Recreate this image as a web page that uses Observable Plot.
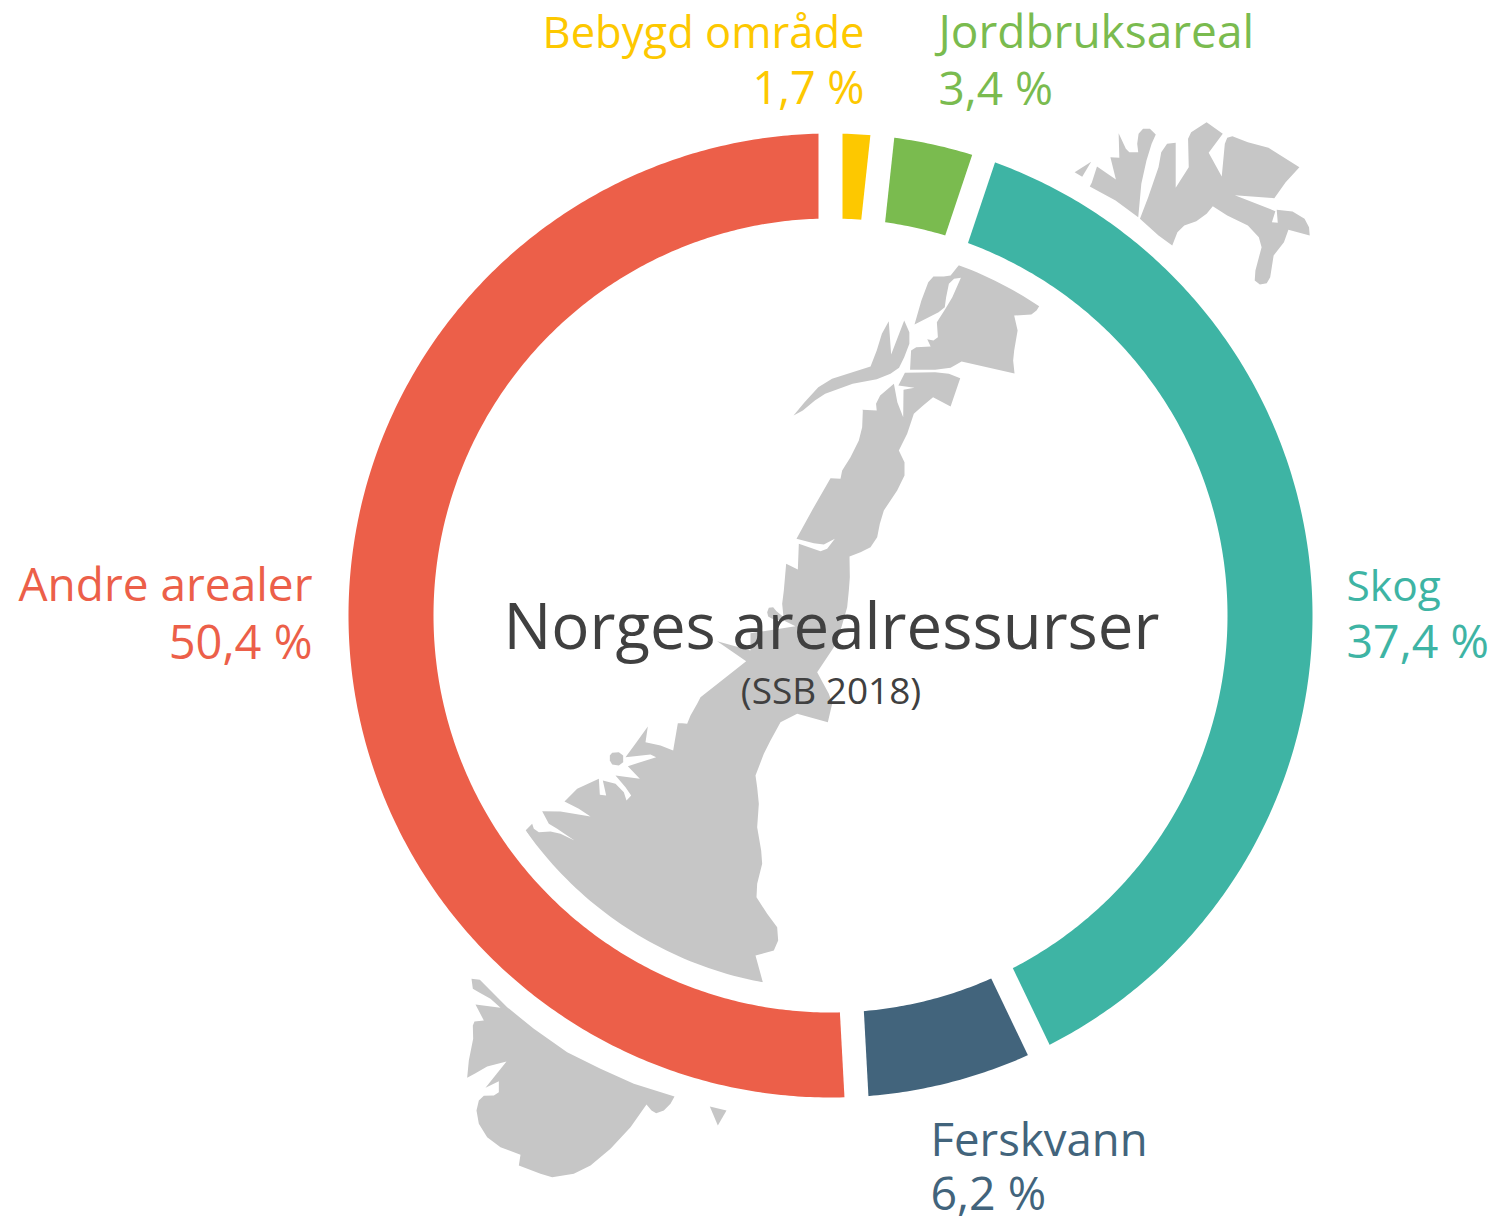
<!DOCTYPE html>
<html lang="no">
<head>
<meta charset="utf-8">
<script src="https://cdn.jsdelivr.net/npm/d3@7"></script>
<script src="https://cdn.jsdelivr.net/npm/@observablehq/plot@0.6"></script>
<style>
html,body{margin:0;padding:0;background:#fff}
svg{display:block}
</style>
</head>
<body>
<script>
// ---------- chart data ----------
const categories = ["Bebygd område", "Jordbruksareal", "Skog", "Ferskvann", "Andre arealer"];
const shares = [1.7, 3.4, 37.4, 6.2, 50.4];
const colours = ["#FDC800", "#7ABB4F", "#3EB4A4", "#42647C", "#EC5F49"];
const title = "Norges arealressurser";
const subtitle = "(SSB 2018)";

const crop = (ox, oy, pts, kx = 3) => pts.map(([a, b]) => [ox + a / kx, oy + b / 3]);
const wide = 2.91; // horizontal scale of the widest crop
const finnmark = crop(780,110,[[520,463],[610,480],[690,525],[760,575],[745,600],[730,612],[680,615],[690,660],[680,720],[677,750],[681,789],[527,753],[495,772],[450,778],[377,778],[380,720],[395,710],[437,708],[427,686],[445,690],[458,680],[455,635],[480,595],[500,560],[525,502],[505,505],[490,520],[482,560],[478,590],[460,605],[390,642],[410,570],[430,515],[445,498],[475,498],[495,495]], wide);
const troms = crop(780,110,[[38,915],[70,875],[110,830],[150,805],[262,768],[280,720],[295,670],[315,632],[322,732],[360,630],[375,665],[375,700],[360,740],[345,772],[320,790],[280,806],[210,820],[130,850],[100,870],[65,900]], wide);
const mainland = [
  ...crop(780,110,[[362,787],[450,785],[490,790],[523,803],[495,888],[444,860],[415,885]], wide),
  ...crop(680,400,[[700,40],[680,100],[655,150],[672,185],[672,225],[650,270],[610,330],[598,370],[590,410],[570,440],[540,455],[507,468],[508,530]]),
  ...crop(700,590,[[445,0],[440,50],[420,120],[400,170],[350,245],[385,310],[395,340],[382,395],[290,370],[240,395],[210,450]]),
  ...crop(510,700,[[760,160],[735,225],[740,260],[745,310],[740,380],[752,450],[755,490],[740,550],[738,590],[770,640],[800,680],[803,720],[790,750],[735,765],[757,845],[650,835],[550,800],[450,755],[350,690],[250,620],[170,545],[100,470],[45,390],[65,370],[70,385],[85,395],[120,393],[150,400],[192,420],[140,385],[115,370],[95,332],[150,333],[240,348],[205,325],[162,303],[200,265],[265,235],[268,283],[287,285],[277,240],[315,250],[340,275],[348,300],[362,285],[345,260],[315,225],[388,235],[352,197],[437,170],[420,162],[345,170],[378,125],[412,78],[405,125],[450,135],[488,150],[502,68],[515,68],[530,70],[540,45],[560,10]]),
  ...crop(700,590,[[0,320],[137,212],[50,152],[150,180],[150,128],[285,107],[250,90],[245,40],[250,0]]),
  ...crop(680,400,[[317,490],[352,507],[355,430],[420,452],[440,445],[463,415],[430,432],[400,428],[348,415],[400,320],[450,233],[480,235],[485,210],[510,170],[535,120],[545,80],[547,30]]),
  ...crop(780,110,[[238,898],[280,900],[278,880],[290,855],[330,820],[340,875],[357,920],[358,838],[390,832],[343,825]], wide)
];
const islet = crop(510,700,[[298,165],[305,157],[325,155],[338,165],[338,185],[325,195],[305,192],[298,180]]);
const neck = crop(700,590,[[200,65],[205,52],[218,50],[228,62],[250,80],[250,92],[215,85],[203,78]]);
const spitsbergenWest = crop(780,110,[[906,216],[921,168],[976,207],[960,140],[986,142],[984,68],[1005,115],[1015,125],[1041,125],[1038,100],[1042,70],[1055,55],[1075,55],[1092,72],[1080,100],[1065,150],[1050,220],[1041,320],[975,270],[900,228]], wide);
const spitsbergenEast = crop(780,110,[[1046,325],[1070,260],[1100,170],[1108,125],[1125,100],[1150,97],[1150,232],[1188,170],[1186,85],[1195,65],[1240,35],[1287,70],[1246,127],[1284,198],[1293,100],[1300,82],[1315,77],[1360,95],[1420,112],[1510,170],[1470,215],[1437,263],[1322,254],[1440,302],[1430,335],[1447,337],[1444,298],[1490,303],[1525,325],[1538,350],[1540,375],[1478,358],[1465,395],[1435,435],[1425,500],[1415,518],[1395,522],[1380,510],[1382,480],[1400,410],[1392,380],[1360,345],[1300,315],[1258,287],[1240,310],[1210,332],[1175,345],[1155,365],[1140,405],[1100,375]], wide);
const spitsbergenIslet = crop(780,110,[[856,185],[904,154],[878,199]], wide);
const south = crop(450,960,[[63,55],[88,58],[170,140],[250,205],[350,275],[450,325],[550,370],[672,408],[660,430],[640,450],[617,458],[603,450],[588,432],[540,500],[480,565],[420,615],[370,640],[305,650],[270,640],[205,615],[210,583],[150,560],[110,530],[85,490],[78,450],[85,420],[100,406],[130,405],[145,395],[145,362],[105,382],[168,303],[110,318],[75,338],[50,352],[55,300],[68,235],[67,195],[72,183],[100,180],[75,132],[150,142],[120,115],[85,95],[67,85]]);
const southIslet = crop(450,960,[[778,438],[828,450],[802,495]]);
const mapParts = [finnmark, troms, mainland, islet, neck, spitsbergenWest, spitsbergenEast, spitsbergenIslet, south, southIslet];

// ---------- layout (separate from the data) ----------
const W = 1502, H = 1223;
const cx = 830, cy = 615, rOuter = 482, rInner = 397;
const labelLayout = [
  {x: 864, anchor: "end",   y1: 47,   y2: 103,  s1: 43.5, s2: 45},
  {x: 938, anchor: "start", y1: 47,   y2: 104,  s1: 46,   s2: 46},
  {x: 1346, anchor: "start", y1: 600, y2: 657,  s1: 42.5, s2: 46.5},
  {x: 930, anchor: "start", y1: 1155, y2: 1209, s1: 45.5, s2: 46.5},
  {x: 312, anchor: "end",   y1: 600, y2: 658,   s1: 46,   s2: 47}
];
const fontFamily = "'Open Sans', Lato, sans-serif";

// ---------- derived geometry ----------
const total = d3.sum(shares);
const polar = (deg, r) => {
  const t = deg * Math.PI / 180;
  return {x: cx + r * Math.sin(t), y: cy - r * Math.cos(t)};
};
const cum = d3.cumsum(shares);
const ends = Array.from(cum, (c) => c / total * 360);
const starts = [0, ...ends.slice(0, -1)];

const arcPoints = categories.flatMap((category, i) => {
  const pts = [];
  for (let a = starts[i]; a < ends[i]; a += 0.5) pts.push({category, ...polar(a, (rOuter + rInner) / 2)});
  pts.push({category, ...polar(ends[i], (rOuter + rInner) / 2)});
  return pts;
});
const haloPoints = d3.range(0, 360.5, 1).map((a) => polar(a, 436.5));
const gaps = ends.map((a) => {
  const p = polar(a, rInner - 12), q = polar(a, rOuter + 12);
  return {x1: p.x, y1: p.y, x2: q.x, y2: q.y};
});
const mapPoints = mapParts.flatMap((part, z) => part.map(([x, y]) => ({x, y, z})));
const labels = categories.map((category, i) => ({
  category,
  pct: String(shares[i]).replace(".", ",") + " %",
  ...labelLayout[i]
}));

const labelMarks = ["start", "end"].flatMap((anchor) => {
  const rows = labels.filter((d) => d.anchor === anchor);
  return [
    Plot.text(rows, {x: "x", y: "y1", text: "category", fill: "category", textAnchor: anchor, lineAnchor: "bottom", fontSize: "s1"}),
    Plot.text(rows, {x: "x", y: "y2", text: "pct", fill: "category", textAnchor: anchor, lineAnchor: "bottom", fontSize: "s2"})
  ];
});

const chart = Plot.plot({
  width: W,
  height: H,
  margin: 0,
  style: {fontFamily, background: "#fff"},
  x: {domain: [0, W], range: [0, W], axis: null},
  y: {domain: [0, H], range: [0, H], axis: null},
  color: {domain: categories, range: colours},
  marks: [
    Plot.line(mapPoints, {x: "x", y: "y", z: "z", fill: "#C6C6C6", stroke: "none", curve: "linear-closed"}),
    Plot.line(haloPoints, {x: "x", y: "y", stroke: "#fff", strokeWidth: 127}),
    Plot.line(arcPoints, {x: "x", y: "y", z: "category", stroke: "category", strokeWidth: rOuter - rInner, strokeLinecap: "butt", strokeLinejoin: "round"}),
    Plot.link(gaps, {x1: "x1", y1: "y1", x2: "x2", y2: "y2", stroke: "#fff", strokeWidth: 24, strokeLinecap: "butt"}),
    ...labelMarks,
    Plot.text([title], {x: () => 831, y: () => 648, text: (d) => d, fill: "#404040", fontSize: 63.5, lineAnchor: "bottom", textAnchor: "middle"}),
    Plot.text([subtitle], {x: () => 830.5, y: () => 703, text: (d) => d, fill: "#404040", fontSize: 37, lineAnchor: "bottom", textAnchor: "middle"})
  ]
});
document.body.append(chart);
</script>
</body>
</html>
